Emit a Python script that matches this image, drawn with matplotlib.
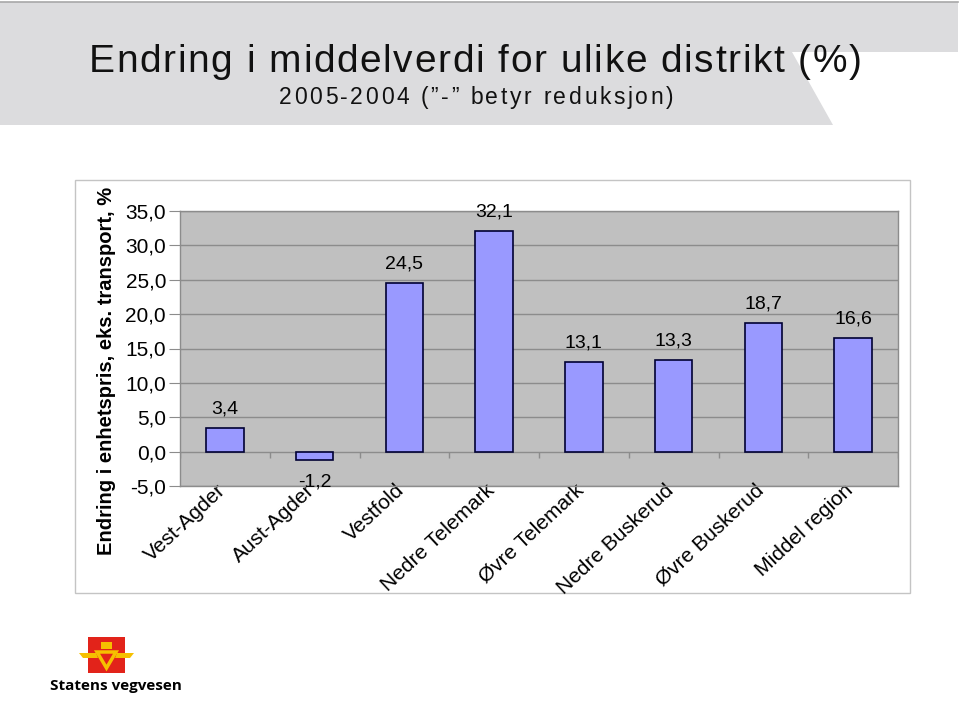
import numpy as np
import matplotlib
matplotlib.use("Agg")
from matplotlib import pyplot as plt
from matplotlib.patches import Polygon, Rectangle
from matplotlib.font_manager import FontProperties

districts = ["Vest-Agder", "Aust-Agder", "Vestfold", "Nedre Telemark",
             "Øvre Telemark", "Nedre Buskerud", "Øvre Buskerud", "Middel region"]
change = [3.4, -1.2, 24.5, 32.1, 13.1, 13.3, 18.7, 16.6]
yticks = [-5, 0, 5, 10, 15, 20, 25, 30, 35]

title = "Endring i middelverdi for ulike distrikt (%)"
subtitle = "2005-2004 (\u201d-\u201d betyr reduksjon)"
ylabel = "Endring i enhetspris, eks. transport, %"

plt.rcParams["font.family"] = ["Liberation Sans", "DejaVu Sans"]


def fmt(v):
    return f"{v:.1f}".replace(".", ",")


W, H = 960, 720
fig = plt.figure(figsize=(9.6, 7.2), dpi=100)
renderer = fig.canvas.get_renderer()


def spaced_text(ax, xc, y, s, size, track):
    # slide titles have wide letter spacing, so place them char by char
    prop = FontProperties(family="Liberation Sans", size=size)
    base = renderer.get_text_width_height_descent("aa", prop, ismath=False)[0]
    widths = [renderer.get_text_width_height_descent("a" + c + "a", prop, ismath=False)[0] - base
              for c in s]
    total = sum(widths) + track * (len(s) - 1)
    xx = xc - total / 2
    for c, w in zip(s, widths):
        ax.text(xx, y, c, fontproperties=prop, ha="left", va="baseline", color="#111111")
        xx += w + track


# background layer in pixel coordinates
bg = fig.add_axes([0, 0, 1, 1])
bg.set_xlim(0, W)
bg.set_ylim(H, 0)
bg.axis("off")
banner = Polygon([(0, 2), (958, 2), (958, 52), (792, 52), (833, 125), (0, 125)],
                 closed=True, fc="#dcdcde", ec="none")
bg.add_patch(banner)
bg.plot([0, 958], [2, 2], color="#a8a8a8", lw=1.2)
spaced_text(bg, 475, 72, title, 28, 1.6)
spaced_text(bg, 476, 104, subtitle, 16.5, 2.6)

# chart frame
bg.add_patch(Rectangle((75, 180), 835, 413, fc="white", ec="#c4c4c4", lw=1))
bg.text(107, 371, ylabel, rotation=90, fontsize=14.5, fontweight="bold",
        ha="center", va="center")

# logo
bg.add_patch(Rectangle((88, 637), 37, 36, fc="#e2231a", ec="none"))
bg.add_patch(Polygon([(97, 652), (116, 652), (106.5, 668)], closed=True,
                     fc="none", ec="#f6c000", lw=2.5))
bg.add_patch(Polygon([(79, 653), (96, 653), (98, 658), (83, 658)], closed=True,
                     fc="#f6c000", ec="none"))
bg.add_patch(Polygon([(117, 653), (134, 653), (130, 658), (115, 658)], closed=True,
                     fc="#f6c000", ec="none"))
bg.add_patch(Rectangle((101, 642), 11, 7, fc="#f6c000", ec="none"))
bg.text(50, 686, "Statens vegvesen", fontsize=11, fontweight="bold",
        family=["Open Sans", "DejaVu Sans"], ha="left", va="center")

# chart
ax = fig.add_axes([180 / W, 1 - 486 / H, (898 - 180) / W, (486 - 211) / H])
ax.set_facecolor("#c0c0c0")
x = np.arange(len(districts))
ax.bar(x, change, width=0.42, color="#9999ff", edgecolor="#000033", lw=1.2, zorder=3)
ax.set_xlim(-0.5, len(districts) - 0.5)
ax.set_ylim(min(yticks), max(yticks))
ax.set_yticks(yticks)
ax.set_yticklabels([fmt(t) for t in yticks], fontsize=15)
ax.yaxis.grid(True, color="#8c8c8c", lw=1)
ax.set_axisbelow(True)
ax.tick_params(axis="y", length=8, color="#8c8c8c", pad=2)
for s in ax.spines.values():
    s.set_color("#8c8c8c")
    s.set_linewidth(1)

# category ticks on the zero line
ax.vlines(np.arange(len(districts) + 1) - 0.5, -0.9, 0, color="#8c8c8c", lw=1, zorder=2)

ax.set_xticks(x - 0.1)
ax.set_xticklabels(districts, rotation=43, ha="right", va="top",
                   rotation_mode="anchor", fontsize=15)
ax.tick_params(axis="x", length=0, pad=-4)

for xi, v in zip(x, change):
    if v >= 0:
        ax.text(xi, v + 1.5, fmt(v), ha="center", va="bottom", fontsize=14)
    else:
        ax.text(xi, v - 2.0, fmt(v), ha="center", va="top", fontsize=14)

fig.savefig("out.png", dpi=100)
